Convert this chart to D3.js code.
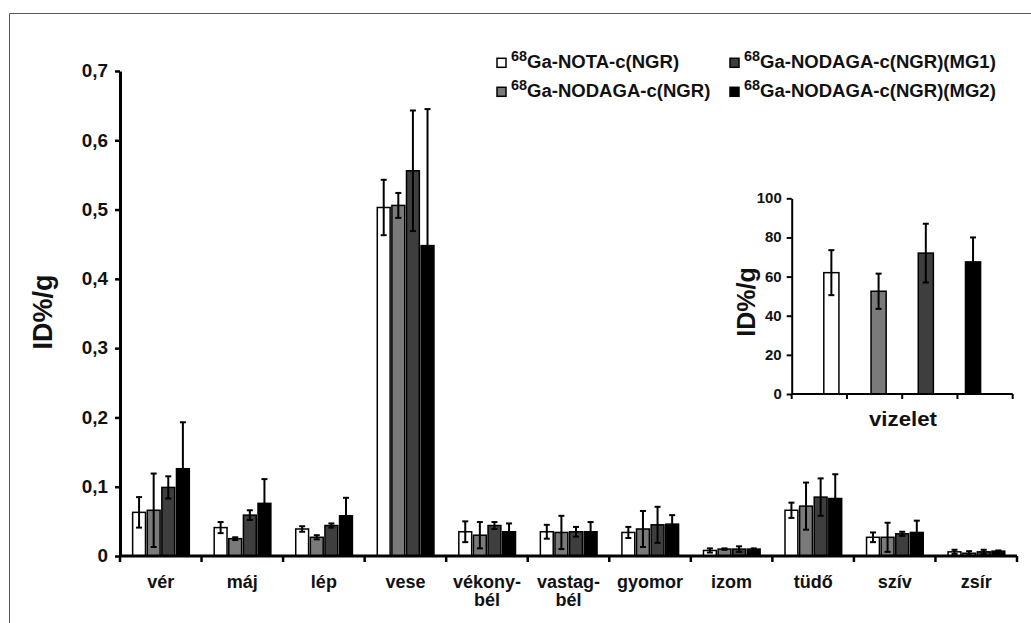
<!DOCTYPE html>
<html>
<head>
<meta charset="utf-8">
<script src="https://cdn.jsdelivr.net/npm/d3@7"></script>
<style>
  body { margin: 0; background: #fff; }
  svg text { font-family: "Liberation Sans", Arial, sans-serif; font-weight: bold; fill: #111; }
</style>
</head>
<body>
<script>
// organs on the x axis
var categories = ["vér", "máj", "lép", "vese", "vékony-bél", "vastag-bél", "gyomor", "izom", "tüdő", "szív", "zsír"];
var seriesNames = ["68Ga-NOTA-c(NGR)", "68Ga-NODAGA-c(NGR)", "68Ga-NODAGA-c(NGR)(MG1)", "68Ga-NODAGA-c(NGR)(MG2)"];
var seriesColors = ["#ffffff", "#7a7a7a", "#3e3e3e", "#000000"];

// ID%/g means and SD, one array per tracer
var notaMean   = [0.063, 0.041, 0.039, 0.503, 0.035, 0.035, 0.034, 0.008, 0.066, 0.027, 0.006];
var notaErr    = [0.022, 0.008, 0.004, 0.040, 0.015, 0.010, 0.008, 0.003, 0.011, 0.007, 0.003];
var nodagaMean = [0.066, 0.025, 0.027, 0.506, 0.030, 0.034, 0.039, 0.010, 0.072, 0.027, 0.004];
var nodagaErr  = [0.053, 0.002, 0.003, 0.018, 0.019, 0.024, 0.026, 0.001, 0.034, 0.021, 0.003];
var mg1Mean    = [0.099, 0.059, 0.044, 0.556, 0.044, 0.035, 0.045, 0.010, 0.085, 0.032, 0.006];
var mg1Err     = [0.016, 0.007, 0.003, 0.087, 0.005, 0.007, 0.026, 0.004, 0.027, 0.003, 0.003];
var mg2Mean    = [0.126, 0.076, 0.058, 0.448, 0.035, 0.035, 0.046, 0.010, 0.083, 0.034, 0.007];
var mg2Err     = [0.067, 0.035, 0.026, 0.197, 0.012, 0.014, 0.013, 0.001, 0.035, 0.017, 0.001];

// urine (inset)
var urineMean = [62, 52.5, 72, 67.5];
var urineErr  = [11.5, 9, 15, 12.5];

var yTicks = [0, 0.1, 0.2, 0.3, 0.4, 0.5, 0.6, 0.7];
var yTickLabels = ["0", "0,1", "0,2", "0,3", "0,4", "0,5", "0,6", "0,7"];
var insetTicks = [0, 20, 40, 60, 80, 100];

var means = [notaMean, nodagaMean, mg1Mean, mg2Mean];
var errs = [notaErr, nodagaErr, mg1Err, mg2Err];

var width = 1031, height = 623;

var svg = d3.select("body").append("svg")
    .attr("width", width)
    .attr("height", height);

// frame
svg.append("path")
    .attr("d", "M9.5,623V13.5H1031")
    .attr("fill", "none")
    .attr("stroke", "#555")
    .attr("stroke-width", 1);

/*
  main chart
*/
var x = d3.scaleBand().domain(categories).range([120, 1017]);
var bw = x.bandwidth();
var xs = d3.scaleBand().domain(d3.range(4)).range([bw * 0.155, bw * 0.85]).paddingInner(0.12);
var y = d3.scaleLinear().domain([0, 0.7]).range([556, 71]);

var rows = [];
categories.forEach(function (c, i) {
  for (var j = 0; j < 4; j++) rows.push({cat: c, s: j, v: means[j][i], e: errs[j][i]});
});

svg.append("g").selectAll("rect")
  .data(rows)
  .enter().append("rect")
    .attr("x", function (d) { return x(d.cat) + xs(d.s); })
    .attr("y", function (d) { return y(d.v); })
    .attr("width", xs.bandwidth())
    .attr("height", function (d) { return y(0) - y(d.v); })
    .attr("fill", function (d) { return seriesColors[d.s]; })
    .attr("stroke", "#000")
    .attr("stroke-width", 1.5);

function errorBars(g, data, cx, yy, cap) {
  var eb = g.append("g").selectAll("g").data(data).enter().append("g")
      .attr("stroke", "#000").attr("stroke-width", 2);
  eb.append("line")
      .attr("x1", cx).attr("x2", cx)
      .attr("y1", function (d) { return yy(d.v - d.e); })
      .attr("y2", function (d) { return yy(d.v + d.e); });
  [-1, 1].forEach(function (k) {
    eb.append("line")
        .attr("x1", function (d) { return cx(d) - cap; })
        .attr("x2", function (d) { return cx(d) + cap; })
        .attr("y1", function (d) { return yy(d.v + k * d.e); })
        .attr("y2", function (d) { return yy(d.v + k * d.e); });
  });
}
errorBars(svg, rows, function (d) { return x(d.cat) + xs(d.s) + xs.bandwidth() / 2; }, y, 3);

// y axis
var gy = svg.append("g")
    .attr("transform", "translate(120,0)")
    .call(d3.axisLeft(y).tickValues(yTicks)
      .tickFormat(function (d, i) { return yTickLabels[i]; })
      .tickSize(5).tickSizeOuter(0));
gy.select(".domain").attr("stroke-width", 3);
gy.selectAll(".tick line").attr("stroke-width", 2.5);
gy.selectAll(".tick text")
    .attr("font-size", 18)
    .attr("font-family", null)
    .attr("x", -12 / 1.05)
    .attr("transform", "scale(1.05,1)");

// x axis with ticks between groups
svg.append("line")
    .attr("x1", x.range()[0]).attr("x2", x.range()[1])
    .attr("y1", y(0)).attr("y2", y(0))
    .attr("stroke", "#000").attr("stroke-width", 3);
svg.append("g").selectAll("line")
  .data(categories.map(function (c) { return x(c); }).concat([x.range()[1]]))
  .enter().append("line")
    .attr("x1", function (d) { return d; }).attr("x2", function (d) { return d; })
    .attr("y1", y(0)).attr("y2", y(0) + 6)
    .attr("stroke", "#000").attr("stroke-width", 2.5);

var xl = svg.append("g").selectAll("text")
  .data(categories)
  .enter().append("text")
    .attr("transform", function (d) { return "translate(" + (x(d) + bw / 2) + ",588)"; })
    .attr("text-anchor", "middle")
    .attr("font-size", 18);
xl.each(function (d) {
  var parts = d.indexOf("-") > 0 ? [d.slice(0, d.indexOf("-") + 1), d.slice(d.indexOf("-") + 1)] : [d];
  var t = d3.select(this);
  parts.forEach(function (p, k) {
    t.append("tspan").attr("x", 0).attr("dy", k ? 18 : 0).text(p);
  });
});

svg.append("text")
    .attr("transform", "translate(52,312) rotate(-90)")
    .attr("text-anchor", "middle")
    .attr("font-size", 27)
    .text("ID%/g");

/*
  legend
*/
var legendPos = [[497, 68.3], [497, 97.3], [730, 68.3], [730, 97.3]];
var lg = svg.append("g").selectAll("g")
  .data(seriesNames)
  .enter().append("g");
lg.append("rect")
    .attr("x", function (d, i) { return legendPos[i][0]; })
    .attr("y", function (d, i) { return legendPos[i][1] - 10; })
    .attr("width", 9).attr("height", 9)
    .attr("fill", function (d, i) { return seriesColors[i]; })
    .attr("stroke", "#000").attr("stroke-width", 1.5);
var lt = lg.append("text")
    .attr("transform", function (d, i) { return "translate(" + (legendPos[i][0] + 14) + "," + legendPos[i][1] + ") scale(1.03,1)"; })
    .attr("font-size", 18);
lt.append("tspan").attr("font-size", 14).attr("dy", -7).text(function (d) { return d.slice(0, 2); });
lt.append("tspan").attr("dy", 7).text(function (d) { return d.slice(2); });

/*
  inset: urine
*/
var xi = d3.scaleBand().domain(d3.range(4)).range([791.7, 1012.7]).padding(0.68);
var xiTicks = d3.scaleBand().domain(d3.range(4)).range([791.7, 1012.7]);
var yi = d3.scaleLinear().domain([0, 100]).range([394, 198.3]);
var urineRows = urineMean.map(function (v, i) { return {s: i, v: v, e: urineErr[i]}; });

svg.append("g").selectAll("rect")
  .data(urineRows)
  .enter().append("rect")
    .attr("x", function (d) { return xi(d.s); })
    .attr("y", function (d) { return yi(d.v); })
    .attr("width", xi.bandwidth())
    .attr("height", function (d) { return yi(0) - yi(d.v); })
    .attr("fill", function (d) { return seriesColors[d.s]; })
    .attr("stroke", "#000")
    .attr("stroke-width", 1.5);
errorBars(svg, urineRows, function (d) { return xi(d.s) + xi.bandwidth() / 2; }, yi, 3);

var gyi = svg.append("g")
    .attr("transform", "translate(791.7,0)")
    .call(d3.axisLeft(yi).tickValues(insetTicks).tickSize(5).tickSizeOuter(0));
gyi.select(".domain").attr("stroke-width", 2);
gyi.selectAll(".tick line").attr("stroke-width", 2);
gyi.selectAll(".tick text")
    .attr("font-size", 14)
    .attr("font-family", null)
    .attr("x", -10 / 1.07)
    .attr("transform", "scale(1.07,1)");

svg.append("line")
    .attr("x1", 791.7).attr("x2", 1012.7)
    .attr("y1", yi(0)).attr("y2", yi(0))
    .attr("stroke", "#000").attr("stroke-width", 2);
svg.append("g").selectAll("line")
  .data(d3.range(4).map(function (i) { return xiTicks(i); }).concat([1012.7]))
  .enter().append("line")
    .attr("x1", function (d) { return d; }).attr("x2", function (d) { return d; })
    .attr("y1", yi(0)).attr("y2", yi(0) + 5)
    .attr("stroke", "#000").attr("stroke-width", 2);

svg.append("text")
    .attr("transform", "translate(903,426) scale(1.06,1)")
    .attr("text-anchor", "middle")
    .attr("font-size", 21)
    .text("vizelet");

svg.append("text")
    .attr("transform", "translate(755,302) rotate(-90)")
    .attr("text-anchor", "middle")
    .attr("font-size", 25)
    .text("ID%/g");
</script>
</body>
</html>
